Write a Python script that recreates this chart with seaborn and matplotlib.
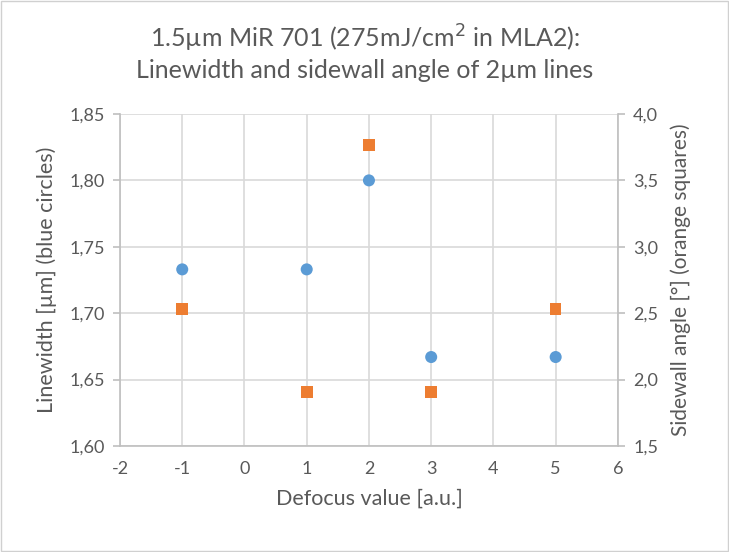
import numpy as np
import pandas as pd
import seaborn as sns
import matplotlib.pyplot as plt
from matplotlib.ticker import FuncFormatter, MultipleLocator
from matplotlib.patches import Rectangle

defocus = [-1, 1, 2, 3, 5]
linewidth_um = [1.733, 1.733, 1.800, 1.667, 1.667]
sidewall_deg = [2.53, 1.905, 3.765, 1.905, 2.53]

BLUE = "#5B9BD5"
ORANGE = "#ED7D31"
TEXT = "#595959"
GRID = "#D9D9D9"
AXIS = "#BFBFBF"


def comma_fmt(nd):
    return FuncFormatter(lambda v, _: f"{v:.{nd}f}".replace(".", ","))


def main():
    sns.set_theme(style="white")
    plt.rcParams.update({
        "font.family": ["Lato", "DejaVu Sans"],
        "axes.unicode_minus": False,
        "text.color": TEXT,
        "axes.labelcolor": TEXT,
        "xtick.color": TEXT,
        "ytick.color": TEXT,
    })

    df = pd.DataFrame({"defocus": defocus, "lw": linewidth_um, "swa": sidewall_deg})

    fig = plt.figure(figsize=(7.29, 5.52), dpi=100)
    ax = fig.add_axes([0.1646, 0.192, 0.683, 0.6015])
    ax2 = ax.twinx()

    sns.scatterplot(ax=ax, data=df, x="defocus", y="lw", color=BLUE,
                    marker="o", s=75, edgecolor="none", zorder=3)
    sns.scatterplot(ax=ax2, data=df, x="defocus", y="swa", color=ORANGE,
                    marker="s", s=70, edgecolor="none", zorder=3)

    ax.set_xlim(-2, 6)
    ax.set_ylim(1.60, 1.85)
    ax2.set_ylim(1.5, 4.0)
    ax.xaxis.set_major_locator(MultipleLocator(1))
    ax.yaxis.set_major_locator(MultipleLocator(0.05))
    ax2.yaxis.set_major_locator(MultipleLocator(0.5))
    ax.yaxis.set_major_formatter(comma_fmt(2))
    ax2.yaxis.set_major_formatter(comma_fmt(1))

    ax.grid(True, color=GRID, linewidth=1.2)
    ax.set_axisbelow(True)
    for a in (ax, ax2):
        a.spines["top"].set_visible(False)
        for side in ("left", "right", "bottom"):
            a.spines[side].set_color(AXIS)
            a.spines[side].set_linewidth(1.2)
        a.tick_params(length=5, width=1.2, color=AXIS, labelsize=13, pad=6)
    ax.spines["right"].set_visible(False)
    ax2.spines["left"].set_visible(False)
    ax2.spines["bottom"].set_visible(False)

    ax.set_xlabel("Defocus value [a.u.]", fontsize=15.5, labelpad=8)
    ax.set_ylabel("Linewidth [µm] (blue circles)", fontsize=15.5, labelpad=9)
    ax2.set_ylabel("Sidewall angle [°] (orange squares)", fontsize=15, labelpad=9)

    fig.text(0.5, 0.905, "1.5µm MiR 701 (275mJ/cm$^2$ in MLA2):\n"
             "Linewidth and sidewall angle of 2µm lines",
             ha="center", va="center", fontsize=18, color=TEXT, linespacing=1.25)

    fig.patches.append(Rectangle((0.002, 0.002), 0.996, 0.996, transform=fig.transFigure,
                                 fill=False, edgecolor="#D0D0D0", linewidth=1))

    fig.savefig("out.png", dpi=100)


if __name__ == "__main__":
    main()
